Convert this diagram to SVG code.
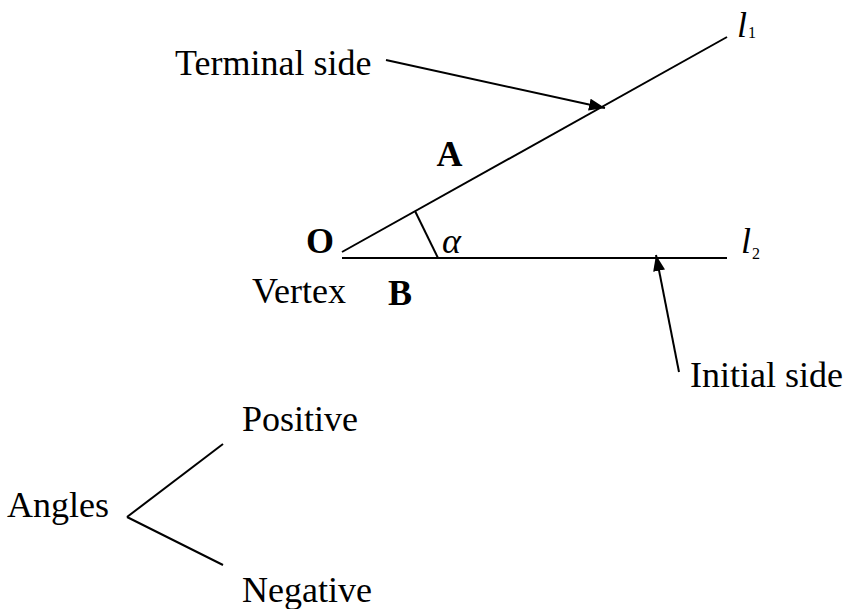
<svg xmlns="http://www.w3.org/2000/svg" width="848" height="609" viewBox="0 0 848 609">
  <style>
    .t { font-family: "Liberation Serif", "Times New Roman", serif; font-size: 36px; fill: #000; }
    .b { font-weight: bold; }
    .i { font-style: italic; }
    .sub { font-size: 16px; }
    .ln { stroke: #000; stroke-width: 2; fill: none; }
  </style>
  <defs>
    <marker id="arr" viewBox="0 0 16 12" refX="16" refY="6" markerWidth="16" markerHeight="12" markerUnits="userSpaceOnUse" orient="auto">
      <path d="M0,0 L16,6 L0,12 Z" fill="#000"/>
    </marker>
  </defs>
  <rect width="848" height="609" fill="#fff"/>
  <g id="connectors">
    <line class="ln" x1="342" y1="252" x2="727" y2="37"/>
    <line class="ln" x1="342" y1="258" x2="727" y2="258"/>
    <line class="ln" x1="415" y1="211" x2="438" y2="258"/>
    <line class="ln" x1="386" y1="60" x2="605" y2="108" marker-end="url(#arr)"/>
    <line class="ln" x1="679" y1="372" x2="656" y2="255" marker-end="url(#arr)"/>
    <line class="ln" x1="127" y1="517" x2="223" y2="444"/>
    <line class="ln" x1="127" y1="517" x2="223" y2="565"/>
  </g>
  <g id="terminal-side"><text class="t" x="175" y="75">Terminal side</text></g>
  <g id="l1"><text class="t i" x="737" y="37" font-size="32">l</text><text class="t sub" x="748" y="38">1</text></g>
  <g id="l2"><text class="t i" x="741" y="253" font-size="32">l</text><text class="t sub" x="752" y="259">2</text></g>
  <g id="label-A"><text class="t b" x="449.5" y="166" text-anchor="middle" font-size="35">A</text></g>
  <g id="label-O"><text class="t b" x="306" y="253" font-size="34">O</text></g>
  <g id="alpha"><text class="t i" x="442" y="253" font-size="30">α</text></g>
  <g id="vertex"><text class="t" x="252" y="303">Vertex</text></g>
  <g id="label-B"><text class="t b" x="400" y="305" text-anchor="middle" font-size="35">B</text></g>
  <g id="initial-side"><text class="t" x="690" y="387">Initial side</text></g>
  <g id="angles"><text class="t" x="7" y="517">Angles</text></g>
  <g id="positive"><text class="t" x="242" y="431">Positive</text></g>
  <g id="negative"><text class="t" x="242" y="602">Negative</text></g>
</svg>
